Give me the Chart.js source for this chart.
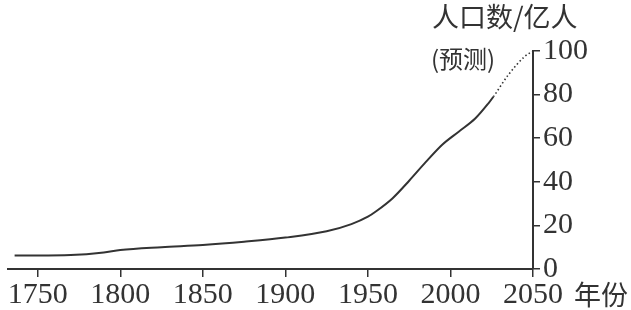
<!DOCTYPE html>
<html>
<head>
<meta charset="utf-8">
<script src="https://cdn.jsdelivr.net/npm/chart.js@4.4.0/dist/chart.umd.min.js"></script>
<style>
  body { margin: 0; background: #fff; }
</style>
</head>
<body>
<canvas id="chart" width="631" height="310"></canvas>
<script>
// 世界人口 (亿人), 2026 年以后为预测
const years = [1736, 1750, 1770, 1790, 1800, 1825, 1850, 1875, 1900, 1925, 1940, 1950, 1955, 1965, 1975, 1985, 1995, 2005, 2015, 2023, 2026, 2035, 2045, 2050];
const population = [6.2, 6.2, 6.4, 7.6, 8.7, 10, 11, 12.5, 14.4, 17.3, 20.6, 24, 26.5, 32.5, 40.5, 49, 57, 63, 69, 76, 79, 89, 97.5, 100];
const FORECAST_FROM = 2026;
const xTicks = [1750, 1800, 1850, 1900, 1950, 2000, 2050];
const yTicks = [0, 20, 40, 60, 80, 100];

const INK = "#333";
const tickFont = { family: "'Liberation Serif', serif", size: 30 };
const cjkFont = "'Noto Sans CJK SC', sans-serif";

// 文字标注
const labels = {
  id: "labels",
  afterDraw(chart) {
    const c = chart.ctx;
    c.save();
    c.fillStyle = INK;
    c.textBaseline = "middle";
    c.textAlign = "left";
    c.font = "27px " + cjkFont;
    c.fillText("人口数/亿人", 432, 17);
    c.font = "24px " + cjkFont;
    c.fillText("(预测)", 431, 59);
    c.font = "27px " + cjkFont;
    c.fillText("年份", 574, 295);
    c.restore();
  },
};

new Chart(document.getElementById("chart").getContext("2d"), {
  type: "line",
  data: {
    datasets: [
      {
        data: years.map((x, i) => ({ x, y: population[i] })),
        borderColor: INK,
        borderWidth: 2,
        pointRadius: 0,
        cubicInterpolationMode: "monotone",
        segment: {
          borderDash: (ctx) => (ctx.p0.parsed.x >= FORECAST_FROM ? [1.5, 2.5] : undefined),
          borderWidth: (ctx) => (ctx.p0.parsed.x >= FORECAST_FROM ? 1.6 : undefined),
        },
      },
    ],
  },
  options: {
    responsive: false,
    animation: false,
    layout: { padding: { left: 8, top: 51, right: 0, bottom: 0 } },
    plugins: { legend: { display: false }, tooltip: { enabled: false } },
    scales: {
      x: {
        type: "linear",
        min: 1732,
        max: 2050,
        afterBuildTicks: (axis) => {
          axis.ticks = xTicks.map((v) => ({ value: v }));
        },
        afterFit: (axis) => {
          axis.height = 41;
        },
        grid: { drawOnChartArea: false, tickLength: 8, color: INK, lineWidth: 1.5 },
        border: { color: INK, width: 2 },
        ticks: {
          font: tickFont,
          color: INK,
          padding: 0,
          maxRotation: 0,
          autoSkip: false,
          callback: (v) => String(v),
        },
      },
      y: {
        type: "linear",
        position: "right",
        min: 0,
        max: 100,
        afterBuildTicks: (axis) => {
          axis.ticks = yTicks.map((v) => ({ value: v }));
        },
        afterFit: (axis) => {
          axis.width = 98;
        },
        grid: { drawOnChartArea: false, tickLength: 7, color: INK, lineWidth: 1.5 },
        border: { color: INK, width: 2 },
        ticks: { font: tickFont, color: INK, padding: 3, callback: (v) => String(v) },
      },
    },
  },
  plugins: [labels],
});
</script>
</body>
</html>
